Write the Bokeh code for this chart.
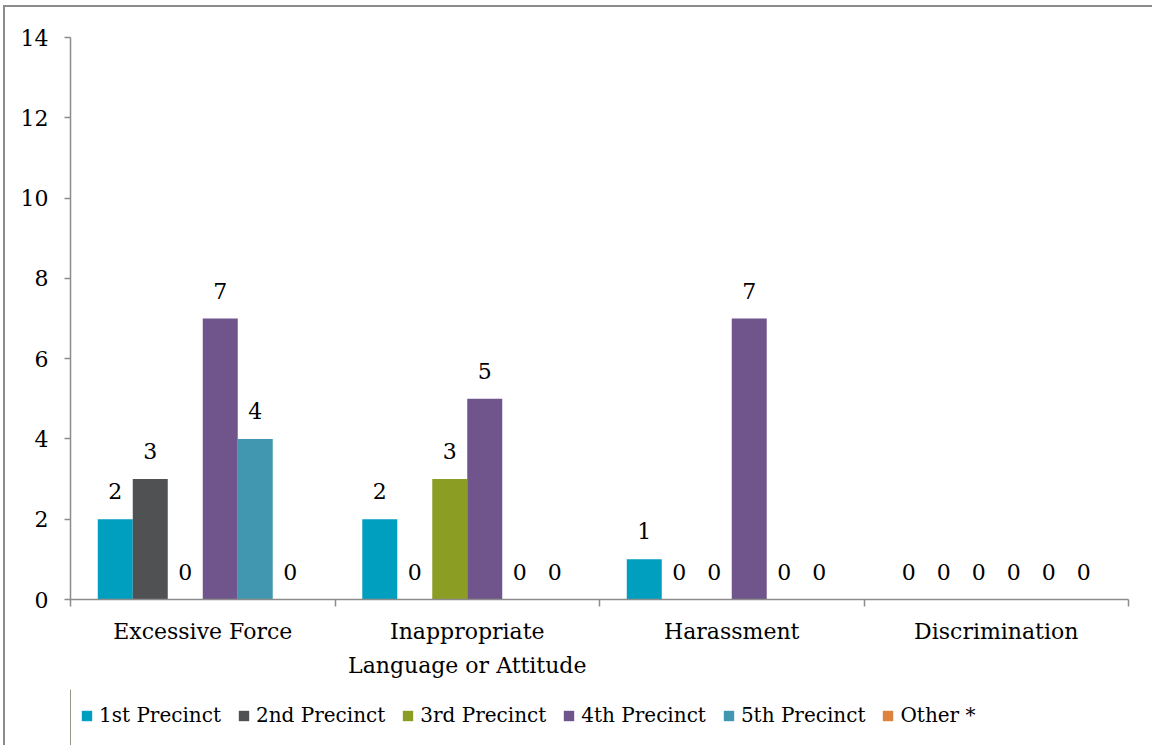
from bokeh.plotting import figure
from bokeh.layouts import column
from bokeh.models import (Range1d, FixedTicker, LinearAxis, Legend, LegendItem,
                          ColumnDataSource)
from bokeh.core.properties import value
from bokeh.embed import file_html
from bokeh.resources import INLINE

# Complaint categories (name split over two lines where needed) and precinct series
categories_line1 = ["Excessive Force", "Inappropriate", "Harassment", "Discrimination"]
categories_line2 = ["", "Language or Attitude", "", ""]
series_names = ["1st Precinct", "2nd Precinct", "3rd Precinct",
                "4th Precinct", "5th Precinct", "Other *"]
precinct_1 = [2, 2, 1, 0]
precinct_2 = [3, 0, 0, 0]
precinct_3 = [0, 3, 0, 0]
precinct_4 = [7, 5, 7, 0]
precinct_5 = [4, 0, 0, 0]
other = [0, 0, 0, 0]
y_ticks = [0, 2, 4, 6, 8, 10, 12, 14]

series_values = [precinct_1, precinct_2, precinct_3, precinct_4, precinct_5, other]
colors = ["#009FBF", "#505153", "#8C9D24", "#70558C", "#4197AF", "#DD833D"]

FONT = "DejaVu Serif"
AXIS_GRAY = "#8c8c8c"
n = len(categories_line1)

p = figure(frame_width=1058, frame_height=562,
           x_range=Range1d(0, n), y_range=Range1d(0, 14),
           x_axis_location=None,
           output_backend="svg", toolbar_location=None,
           min_border_left=65, min_border_top=30, min_border_right=24,
           min_border_bottom=90,
           outline_line_color=None, background_fill_color="white")
p.grid.visible = False

# y axis
p.yaxis.ticker = FixedTicker(ticks=y_ticks)
p.yaxis.minor_tick_line_color = None
p.yaxis.major_tick_out = 6
p.yaxis.major_tick_in = 0
p.yaxis.axis_line_color = AXIS_GRAY
p.yaxis.major_tick_line_color = AXIS_GRAY
p.yaxis.axis_line_width = 1.5
p.yaxis.major_tick_line_width = 1.5
p.yaxis.major_label_text_font = FONT
p.yaxis.major_label_text_font_size = "22px"
p.yaxis.major_label_text_color = "black"
p.yaxis.major_label_standoff = 16

# x axis: tick marks on the category boundaries
bound_axis = LinearAxis(ticker=FixedTicker(ticks=list(range(n + 1))),
                        major_label_overrides={i: "" for i in range(n + 1)},
                        major_label_text_font_size="1px",
                        major_label_standoff=0,
                        major_tick_out=7, major_tick_in=0,
                        minor_tick_line_color=None,
                        axis_line_color=AXIS_GRAY, axis_line_width=1.5,
                        major_tick_line_color=AXIS_GRAY, major_tick_line_width=1.5)
p.add_layout(bound_axis, "below")

# x axis: category names centred in each group, one axis per text line
centers = [i + 0.5 for i in range(n)]
for lines, standoff in ((categories_line1, 6), (categories_line2, 0)):
    cat_axis = LinearAxis(ticker=FixedTicker(ticks=centers),
                          major_label_overrides={c: lab for c, lab in zip(centers, lines)},
                          major_label_text_font=FONT,
                          major_label_text_font_size="22px",
                          major_label_text_color="black",
                          major_label_standoff=standoff,
                          major_tick_line_color=None, minor_tick_line_color=None,
                          axis_line_color=None)
    p.add_layout(cat_axis, "below")

# grouped bars with value labels
bar_w = 0.1323
lab_x, lab_y, lab_t = [], [], []
for k, (name, vals) in enumerate(zip(series_names, series_values)):
    xs = [i + 0.5 + (k - 2.5) * bar_w for i in range(n)]
    p.vbar(x=xs, top=vals, width=bar_w, fill_color=colors[k], line_color=None)
    lab_x.extend(xs)
    lab_y.extend(vals)
    lab_t.extend(str(v) for v in vals)

labels = ColumnDataSource(dict(x=lab_x, y=lab_y, t=lab_t))
p.text(x="x", y="y", text="t", source=labels, text_align="center",
       text_baseline="bottom", y_offset=-20, text_font=value(FONT),
       text_font_size="22px", text_color="black")

# legend strip under the chart; its swatch bars sit outside the visible range
lg = figure(width=1147, height=56, x_range=Range1d(0, 1), y_range=Range1d(0, 1),
            x_axis_location=None, y_axis_location=None,
            output_backend="svg", toolbar_location=None,
            outline_line_color=None, min_border=0)
lg.grid.visible = False
items = []
for name, color in zip(series_names, colors):
    r = lg.vbar(x=[-10], top=[1], width=0.1, fill_color=color, line_color=None)
    items.append(LegendItem(label=name, renderers=[r]))

legend = Legend(items=items, orientation="horizontal", location=(10, 18),
                glyph_width=13, glyph_height=13, label_standoff=6, spacing=16,
                label_text_font=FONT, label_text_font_size="20px",
                label_text_color="black", border_line_color=None,
                background_fill_alpha=0, padding=0, margin=0,
                label_height=16)
lg.add_layout(legend, "center")

page = column(p, lg, spacing=0,
              styles={"margin-left": "3px", "margin-top": "5px",
                      "border-left": f"2px solid {AXIS_GRAY}",
                      "border-top": f"2px solid {AXIS_GRAY}"})

open("out.html", "w").write(file_html(page, INLINE))
